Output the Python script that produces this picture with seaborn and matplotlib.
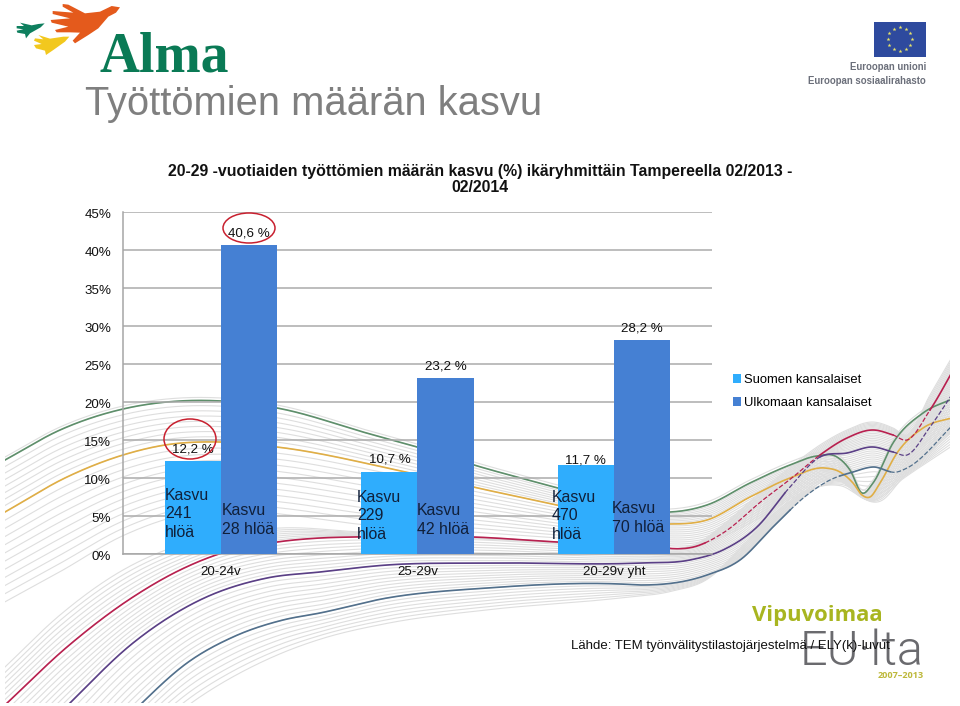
import numpy as np
import pandas as pd
import matplotlib
matplotlib.use("Agg")
import matplotlib.pyplot as plt
from matplotlib.patches import Ellipse, Polygon, Rectangle, Patch
from matplotlib.transforms import ScaledTranslation
import seaborn as sns

# ---- chart data ----
categories = ["20-24v", "25-29v", "20-29v yht"]
series_names = ["Suomen kansalaiset", "Ulkomaan kansalaiset"]
suomen = [12.2, 10.7, 11.7]
ulkomaan = [40.6, 23.2, 28.2]
suomen_labels = ["12,2 %", "10,7 %", "11,7 %"]
ulkomaan_labels = ["40,6 %", "23,2 %", "28,2 %"]
suomen_notes = ["Kasvu\n241\nhlöä", "Kasvu\n229\nhlöä", "Kasvu\n470\nhlöä"]
ulkomaan_notes = ["Kasvu\n28 hlöä", "Kasvu\n42 hlöä", "Kasvu\n70 hlöä"]
y_ticks = [0, 5, 10, 15, 20, 25, 30, 35, 40, 45]
tick_labels = [f"{t}%" for t in y_ticks]
chart_title = "20-29 -vuotiaiden työttömien määrän kasvu (%) ikäryhmittäin Tampereella 02/2013 -\n02/2014"
slide_title = "Työttömien määrän kasvu"
source_text = "Lähde: TEM työnvälitystilastojärjestelmä / ELY(k)-luvut"

LIGHT, DARK = "#2FADFD", "#4580D3"
W, H = 960, 706
plt.rcParams["font.family"] = "Liberation Sans"

# ---- decorative background ribbon: guide curves in page pixels ----
green = [(5,460),(60,430),(123,409),(180,401),(221,401),(277,408),(370,434),(417,447),(474,465),(558,488),(620,505),(670,512),(707,505),(750,483),(790,465),(817,456),(837,457),(850,470),(862,493),(873,483),(893,443),(923,413),(955,398)]
yellow = [(5,512),(67,477),(123,455),(165,445),(221,442),(277,447),(410,473),(473,487),(557,505),(620,518),(670,524),(707,520),(750,497),(790,478),(825,468),(840,472),(853,483),(862,495),(870,497),(880,483),(897,453),(923,428),(955,417)]
up_bottom = [(5,610),(60,580),(123,543),(180,522),(222,515),(280,520),(360,530),(470,536),(560,541),(640,546),(700,546),(760,520),(800,495),(840,482),(862,498),(880,503),(905,478),(955,430)]
low_top = [(5,667),(60,615),(123,570),(180,545),(222,535),(280,528),(360,532),(470,538),(560,543),(640,548),(700,542),(723,525),(763,490),(793,465),(820,445),(847,430),(873,422),(893,428),(907,435),(930,395),(955,352)]
red = [(5,705),(67,647),(133,597),(180,570),(222,553),(277,542),(320,538),(353,537),(473,537),(557,542),(640,546),(700,545),(723,533),(763,500),(793,477),(820,455),(847,438),(873,430),(893,435),(907,440),(930,410),(955,367)]
purple = [(5,770),(70,703),(133,643),(200,600),(267,578),(320,572),(387,565),(487,563),(640,563),(690,560),(723,550),(757,527),(790,487),(820,457),(847,453),(873,447),(893,452),(907,455),(930,427),(955,390)]
slate = [(5,870),(142,703),(187,663),(233,637),(283,620),(320,613),(387,598),(487,588),(620,584),(640,585),(707,575),(740,560),(773,527),(807,495),(830,480),(853,472),(873,467),(897,472),(907,468),(955,423)]
bottom = [(5,900),(200,703),(260,668),(320,643),(387,627),(487,613),(620,600),(673,592),(707,580),(740,547),(773,513),(807,490),(840,487),(873,505),(903,480),(955,447)]

xs = np.arange(5.0, 956.0)

def curve(points):
    px, py = map(np.array, zip(*points))
    m = np.gradient(py, px)
    i = np.clip(np.searchsorted(px, xs, side="right") - 1, 0, len(px) - 2)
    h = px[i + 1] - px[i]
    t = (xs - px[i]) / h
    return ((2*t**3 - 3*t**2 + 1) * py[i] + (t**3 - 2*t**2 + t) * h * m[i]
            + (-2*t**3 + 3*t**2) * py[i + 1] + (t**3 - t**2) * h * m[i + 1])

G, Y, UB, LT, R, P, S, B = map(curve, (green, yellow, up_bottom, low_top, red, purple, slate, bottom))

fig = plt.figure(figsize=(W / 100, H / 100), dpi=100, facecolor="white")
bg = fig.add_axes([0, 0, 1, 1], zorder=0)
bg.set_xlim(0, W); bg.set_ylim(H, 0); bg.axis("off")
clip = Rectangle((5, 0), 945, 703, transform=bg.transData)

def fan(a, b, n):
    for t in np.linspace(0, 1, n + 2)[:-1]:
        ln, = bg.plot(xs, a + (b - a) * t, color="#DEDEDE", lw=0.8, zorder=1)
        ln.set_clip_path(clip)

fan(G - 3, G, 0)
fan(G, Y, 7)
fan(Y, UB, 11)
fan(LT, R, 6)
fan(R, P, 9)
fan(P, S, 9)
fan(S, B, 7)

def stroke(y, color, spans):
    for lo, hi, style in spans:
        m = (xs >= lo) & (xs <= hi)
        ln, = bg.plot(xs[m], y[m], color=color, lw=1.2 if style == "-" else 0.9, ls=style, zorder=2)
        ln.set_clip_path(clip)

stroke(G, "#5E8F6B", [(5, 955, "-")])
stroke(Y, "#E0AE45", [(5, 955, "-")])
stroke(R, "#B8204F", [(5, 705, "-"), (705, 820, "--"), (820, 893, "-"), (893, 930, "--"), (930, 955, "-")])
stroke(P, "#5A3F86", [(5, 785, "-"), (785, 820, "--"), (820, 893, "-"), (893, 955, "--")])
stroke(S, "#52708C", [(5, 790, "-"), (790, 840, "--"), (840, 890, "-"), (890, 955, "--")])

orange_bird = [(158,12),(175,14),(225,40),(270,35),(305,18),(330,22),(318,38),(295,50),(265,85),(235,105),(195,130),(188,122),(210,98),(180,97),(140,97),(135,90),(175,80),(125,68),(122,60),(180,55),(128,42),(128,33),(190,38),(158,20)]
green_bird = [(104,70),(92,82),(60,100),(48,115),(45,102),(22,98),(20,92),(40,88),(20,85),(20,78),(42,78),(30,68),(65,76),(85,72)]
yellow_bird = [(178,110),(165,125),(130,150),(108,165),(105,152),(78,145),(72,135),(95,132),(72,122),(75,115),(100,118),(85,105),(120,116),(160,110)]
for pts, col in ((orange_bird, "#E45A1C"), (green_bird, "#0E7F5E"), (yellow_bird, "#F2C81E")):
    bg.add_patch(Polygon(np.array(pts) / 3 + [10, 0], closed=True, fc=col, ec="none"))
bg.text(99, 71, "Alma", family="Liberation Serif", fontsize=40, color="#0A7A55", va="baseline", ha="left", fontweight="bold")
bg.text(85, 115, slide_title, fontsize=28.7, color="#7F7F7F", va="baseline", ha="left")

bg.add_patch(Rectangle((873.5, 21.5), 52.5, 35, fc="#2E4A9E", ec="none"))
ang = np.deg2rad(np.arange(0, 360, 30))
bg.scatter(899.8 + 12 * np.cos(ang), 39 + 12 * np.sin(ang), marker="*", s=9, color="#E8E36A", linewidths=0)
bg.text(926, 67.5, "Euroopan unioni", fontsize=6.9, fontweight="bold", color="#6B6F7A", ha="right", va="center")
bg.text(926, 81.5, "Euroopan sosiaalirahasto", fontsize=6.9, fontweight="bold", color="#6B6F7A", ha="right", va="center")
bg.text(752, 615, "Vipuvoimaa", family="Open Sans", fontsize=15.8, fontweight="bold", color="#A8B520", ha="left", va="center")
bg.text(800, 665, "EU·lta", family="Roboto", fontsize=35, fontweight=300, color="#6A6A6E", ha="left", va="baseline")
bg.text(924, 675, "2007–2013", family="Open Sans", fontsize=6.6, fontweight="bold", color="#BDB83A", ha="right", va="center")

# ---- chart ----
df = pd.DataFrame({
    "category": categories * 2,
    "series": [series_names[0]] * 3 + [series_names[1]] * 3,
    "value": suomen + ulkomaan,
})
ax = fig.add_axes([123 / W, (H - 553.7) / H, 589 / W, (553.7 - 212) / H], zorder=1)
ax.patch.set_alpha(0)
sns.barplot(data=df, x="category", y="value", hue="series", hue_order=series_names, order=categories,
            palette=[LIGHT, DARK], width=0.573, gap=0, saturation=1, ax=ax, legend=False, zorder=3,
            linewidth=0, errorbar=None)
ax.set_xlim(-0.5, 2.5)
ax.set_ylim(0, 45)
ax.set_yticks(y_ticks, tick_labels)
ax.set_xlabel(""); ax.set_ylabel("")
ax.grid(axis="y", color="#ABABAB", lw=1.1, zorder=1)
ax.set_axisbelow(True)
for s in ("top", "right"):
    ax.spines[s].set_visible(False)
for s in ("left", "bottom"):
    ax.spines[s].set_color("#A6A6A6"); ax.spines[s].set_linewidth(1.1)
ax.tick_params(axis="both", length=0, labelsize=9.6, labelcolor="#111111")
ax.tick_params(axis="y", pad=8.5)
ax.tick_params(axis="x", pad=8.5)
shift = ScaledTranslation(0, -2 / 100, fig.dpi_scale_trans)
for lab in ax.get_yticklabels():
    lab.set_transform(lab.get_transform() + shift)
ax.set_title(chart_title, x=(480 - 123) / 589, y=1.0, pad=14.5, fontsize=11.45, fontweight="bold",
             color="#111111", linespacing=1.08)

legend_handles = [Patch(fc=LIGHT, label=series_names[0]), Patch(fc=DARK, label=series_names[1])]
ax.legend(handles=legend_handles, loc="upper left", bbox_to_anchor=(733 / W, (H - 374) / H),
          bbox_transform=fig.transFigure, frameon=False, fontsize=9.4, handlelength=0.6, handleheight=0.6,
          handletextpad=0.25, labelspacing=0.85, borderpad=0, borderaxespad=0)

for cont, labels, offs in ((ax.containers[0], suomen_labels, [12, 13, 4]),
                           (ax.containers[1], ulkomaan_labels, [12, 11, 11])):
    for bar, lab, dy in zip(cont, labels, offs):
        ax.annotate(lab, (bar.get_x() + bar.get_width() / 2, bar.get_height()), xytext=(0, dy * 0.72),
                    textcoords="offset points", ha="center", va="center", fontsize=9.6, color="#111111", zorder=5)

fg = fig.add_axes([0, 0, 1, 1], zorder=3)
fg.set_xlim(0, W); fg.set_ylim(H, 0); fg.axis("off"); fg.patch.set_alpha(0)
for i, cx in enumerate([165, 357, 552]):
    fg.text(cx, [514, 516, 516][i], suomen_notes[i], fontsize=11.4, color="#10203A", ha="left", va="center", linespacing=1.27)
for i, cx in enumerate([222, 417, 612]):
    fg.text(cx, [520, 520, 518][i], ulkomaan_notes[i], fontsize=11.4, color="#10203A", ha="left", va="center", linespacing=1.27)
fg.add_patch(Ellipse((249, 228), 52, 30, fc="none", ec="#C8202F", lw=1.1))
fg.add_patch(Ellipse((190, 439), 52, 40, fc="none", ec="#C8202F", lw=1.1))
fg.text(571, 646, source_text, fontsize=9.5, color="#111111", ha="left", va="center")

fig.savefig("out.png", dpi=100, facecolor="white")
